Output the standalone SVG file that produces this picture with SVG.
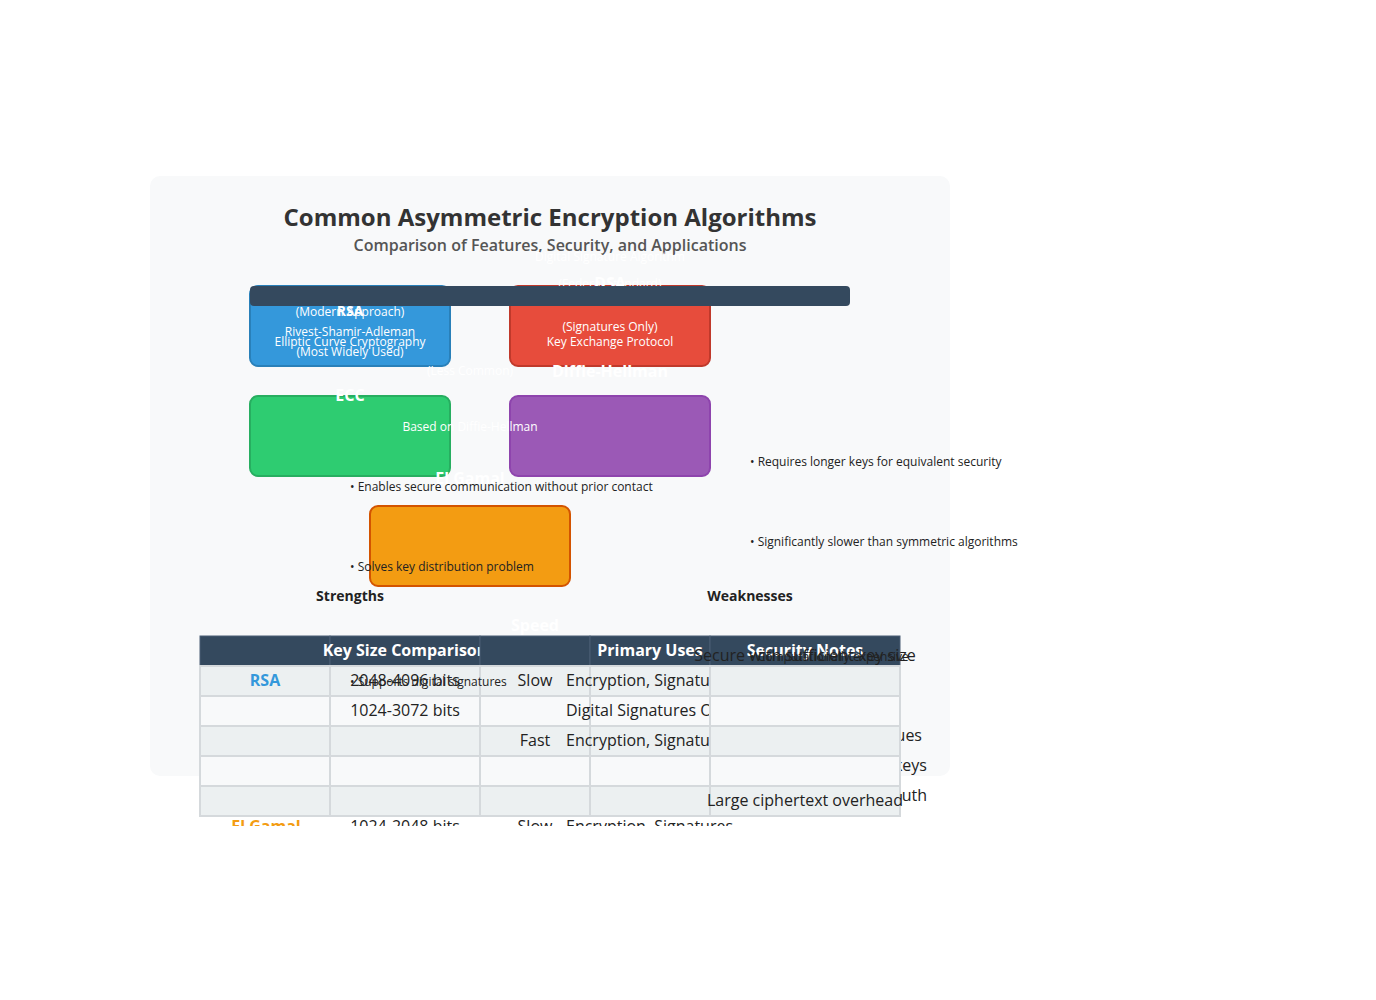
<svg xmlns="http://www.w3.org/2000/svg" width="1376" height="1000" viewBox="0 0 1376 1000">
<defs>
<style>
text{font-family:"Open Sans","Liberation Sans",sans-serif}
.w12{font-size:12px;fill:#fff;text-anchor:middle}
.wb16{font-size:16px;font-weight:700;fill:#fff;text-anchor:middle}
.wb14{font-size:14px;font-weight:700;fill:#fff;text-anchor:middle}
.b12{font-size:12px;fill:#222}
.hd{font-size:14px;font-weight:700;fill:#222;text-anchor:middle}
.th{font-size:16px;font-weight:700;fill:#fff;text-anchor:middle}
.td{font-size:16px;fill:#222}
.c{text-anchor:middle}
.hc{fill:#34495e;stroke:#4a5f74;stroke-width:1}
.ra{fill:#ecf0f1;stroke:#d5d9dc;stroke-width:2}
.rb{fill:#f8f9fa;stroke:#d5d9dc;stroke-width:2}
</style>
<clipPath id="tclip"><rect x="0" y="0" width="1376" height="826"/></clipPath>
</defs>
<rect width="1376" height="1000" fill="#fff"/>
<g id="panel">
<text class="w12" x="550" y="174" font-size="14">Key generation, signing, encryption and key agreement by algorithm family</text>
<rect x="150" y="176" width="800" height="600" rx="10" fill="#f8f9fa"/>
<text x="550" y="226" text-anchor="middle" font-size="24" font-weight="700" fill="#333">Common Asymmetric Encryption Algorithms</text>
<text x="550" y="251" text-anchor="middle" font-size="16" font-weight="600" fill="#555">Comparison of Features, Security, and Applications</text>
</g>
<g id="connectors"></g>
<g id="node-rsa">
<rect x="250" y="286" width="200" height="80" rx="8" fill="#3498db" stroke="#2980b9" stroke-width="2"/>
<text class="w12" x="350" y="316">(Modern Approach)</text>
<text class="wb14" x="350" y="316">RSA</text>
<text class="w12" x="350" y="336">Rivest-Shamir-Adleman</text>
<text class="w12" x="350" y="346">Elliptic Curve Cryptography</text>
<text class="w12" x="350" y="356">(Most Widely Used)</text>
</g>
<g id="node-dsa">
<text class="w12" x="610" y="261">Digital Signature Algorithm</text>
<rect x="510" y="286" width="200" height="80" rx="8" fill="#e74c3c" stroke="#c0392b" stroke-width="2"/>
<text class="w12" x="610" y="288">(Federal Standard)</text>
<text class="wb16" x="610" y="289">DSA</text>
<text class="w12" x="610" y="331">(Signatures Only)</text>
<text class="w12" x="610" y="346">Key Exchange Protocol</text>
</g>
<g id="bar">
<rect x="250" y="286" width="600" height="20" rx="4" fill="#34495e"/>
</g>
<g id="node-ecc">
<rect x="250" y="396" width="200" height="80" rx="8" fill="#2ecc71" stroke="#27ae60" stroke-width="2"/>
<text class="w12" x="470" y="375">(Less Common)</text>
<text class="wb16" x="350" y="401">ECC</text>
</g>
<g id="node-dh">
<rect x="510" y="396" width="200" height="80" rx="8" fill="#9b59b6" stroke="#8e44ad" stroke-width="2"/>
<text class="wb16" x="610" y="377">Diffie-Hellman</text>
<text class="w12" x="470" y="431">Based on Diffie-Hellman</text>
</g>
<g id="node-elgamal">
<text class="wb16" x="470" y="484">El Gamal</text>
<rect x="370" y="506" width="200" height="80" rx="8" fill="#f39c12" stroke="#d35400" stroke-width="2"/>
</g>
<g id="strengths">
<text class="b12" x="350" y="491">• Enables secure communication without prior contact</text>
<text class="b12" x="350" y="571">• Solves key distribution problem</text>
<text class="hd" x="350" y="601">Strengths</text>
</g>
<g id="weaknesses">
<text class="b12" x="750" y="466">• Requires longer keys for equivalent security</text>
<text class="b12" x="750" y="546">• Significantly slower than symmetric algorithms</text>
<text class="hd" x="750" y="601">Weaknesses</text>
</g>
<g id="side-notes">
<text class="td" x="922" y="741" text-anchor="end">Requires unique random values</text>
<text class="td" x="927" y="771" text-anchor="end">High security with smaller keys</text>
<text class="td" x="927" y="801" text-anchor="end">Vulnerable to MITM without auth</text>
</g>
<g id="table" clip-path="url(#tclip)">
<text class="wb16" x="535" y="631">Speed</text>
<text class="td" x="266" y="832" text-anchor="middle" style="fill:#f39c12;font-weight:700">El Gamal</text>
<text class="td c" x="405" y="832">1024-2048 bits</text>
<text class="td c" x="535" y="832">Slow</text>
<text class="td" x="566" y="832">Encryption, Signatures</text>
<rect class="hc" x="200" y="636" width="130" height="30"/>
<rect class="hc" x="330" y="636" width="150" height="30"/>
<text class="th" x="405" y="656">Key Size Comparison</text>
<rect class="hc" x="480" y="636" width="110" height="30"/>
<rect class="hc" x="590" y="636" width="120" height="30"/>
<text class="th" x="650" y="656">Primary Uses</text>
<rect class="hc" x="710" y="636" width="190" height="30"/>
<text class="th" x="805" y="656">Security Notes</text>
<text class="td c" x="805" y="661">Secure with sufficient key size</text>
<text class="b12" x="750" y="661">• Computationally expensive</text>
<rect class="ra" x="200" y="666" width="130" height="30"/>
<text class="td c" x="265" y="686" style="fill:#3498db;font-weight:700">RSA</text>
<rect class="ra" x="330" y="666" width="150" height="30"/>
<text class="td c" x="405" y="686">2048-4096 bits</text>
<rect class="ra" x="480" y="666" width="110" height="30"/>
<text class="b12" x="350" y="686">• Supports digital signatures</text>
<text class="td c" x="535" y="686">Slow</text>
<rect class="ra" x="590" y="666" width="120" height="30"/>
<text class="td" x="566" y="686">Encryption, Signatures</text>
<rect class="ra" x="710" y="666" width="190" height="30"/>
<rect class="rb" x="200" y="696" width="130" height="30"/>
<rect class="rb" x="330" y="696" width="150" height="30"/>
<text class="td c" x="405" y="716">1024-3072 bits</text>
<rect class="rb" x="480" y="696" width="110" height="30"/>
<rect class="rb" x="590" y="696" width="120" height="30"/>
<text class="td" x="566" y="716">Digital Signatures Only</text>
<rect class="rb" x="710" y="696" width="190" height="30"/>
<rect class="ra" x="200" y="726" width="130" height="30"/>
<rect class="ra" x="330" y="726" width="150" height="30"/>
<rect class="ra" x="480" y="726" width="110" height="30"/>
<text class="td c" x="535" y="746">Fast</text>
<rect class="ra" x="590" y="726" width="120" height="30"/>
<text class="td" x="566" y="746">Encryption, Signatures</text>
<rect class="ra" x="710" y="726" width="190" height="30"/>
<rect class="rb" x="200" y="756" width="130" height="30"/>
<rect class="rb" x="330" y="756" width="150" height="30"/>
<rect class="rb" x="480" y="756" width="110" height="30"/>
<rect class="rb" x="590" y="756" width="120" height="30"/>
<rect class="rb" x="710" y="756" width="190" height="30"/>
<rect class="ra" x="200" y="786" width="130" height="30"/>
<rect class="ra" x="330" y="786" width="150" height="30"/>
<rect class="ra" x="480" y="786" width="110" height="30"/>
<rect class="ra" x="590" y="786" width="120" height="30"/>
<rect class="ra" x="710" y="786" width="190" height="30"/>
<text class="td" x="707" y="806">Large ciphertext overhead</text>
</g>
</svg>
